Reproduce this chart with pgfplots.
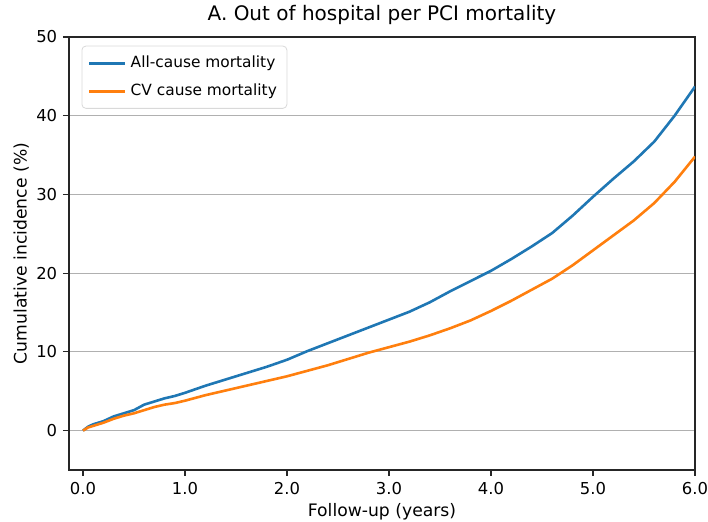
\documentclass[border=0pt]{standalone}
\usepackage{fontspec}
\setmainfont{DejaVu Sans}
\usepackage{pgfplots}
\pgfplotsset{compat=1.18}
\definecolor{tabblue}{HTML}{1F77B4}
\definecolor{taborange}{HTML}{FF7F0E}
\definecolor{gridgray}{HTML}{B0B0B0}
\begin{document}
\fontsize{8.2pt}{10pt}\selectfont
\begin{tikzpicture}
\path[use as bounding box] (0,0) rectangle (354pt,261pt);
\begin{axis}[
  at={(34.5pt,26pt)}, anchor=south west,
  scale only axis, width=313pt, height=216.5pt,
  xmin=-0.137, xmax=6.0, ymin=-5, ymax=50,
  xtick={0,1,2,3,4,5,6},
  ytick={0,10,20,30,40,50},
  xticklabel style={/pgf/number format/.cd, fixed, fixed zerofill, precision=1},
  /pgf/number format/assume math mode=true,
  tick label style={font=\fontsize{8.2pt}{10pt}\selectfont},
  label style={font=\fontsize{8.6pt}{10pt}\selectfont},
  title style={font=\fontsize{10pt}{12pt}\selectfont, yshift=-3pt},
  title={A. Out of hospital per PCI mortality},
  xlabel={Follow-up (years)},
  ylabel={Cumulative incidence (\%)},
  xlabel style={yshift=1pt},
  ylabel style={yshift=-2pt},
  ymajorgrids, grid style={gridgray, line width=0.6pt},
  tick align=outside, tick pos=left,
  major tick length=3pt,
  axis line style={line width=0.6pt, black!85},
  every tick/.style={black!85, line width=0.6pt},
  legend style={draw=black!15, rounded corners=2pt, fill=white, fill opacity=0.8, text opacity=1,
    font=\fontsize{7.7pt}{9.5pt}\selectfont, at={(0.02,0.98)}, anchor=north west,
    row sep=3pt, inner xsep=3pt, inner ysep=3pt},
  legend cell align=left,
  legend image code/.code={\draw[#1, line width=1.4pt] (0pt,0pt) -- (18pt,0pt);},
]
\addplot[tabblue, line width=1.3pt] coordinates {
(0,0) (0.05,0.5) (0.1,0.8) (0.2,1.2) (0.3,1.8) (0.4,2.2) (0.5,2.6) (0.6,3.3) (0.7,3.7) (0.8,4.1) (0.9,4.4) (1.0,4.8) (1.2,5.7) (1.4,6.5) (1.6,7.3) (1.8,8.1) (2.0,9.0) (2.2,10.1) (2.4,11.1) (2.6,12.1) (2.8,13.1) (3.0,14.1) (3.2,15.1) (3.4,16.3) (3.6,17.7) (3.8,19.0) (4.0,20.3) (4.2,21.8) (4.4,23.4) (4.6,25.1) (4.8,27.3) (5.0,29.7) (5.2,32.0) (5.4,34.2) (5.6,36.7) (5.8,40.0) (6.0,43.7)
};
\addlegendentry{All-cause mortality}
\addplot[taborange, line width=1.3pt] coordinates {
(0,0) (0.05,0.4) (0.1,0.6) (0.2,1.0) (0.3,1.5) (0.4,1.9) (0.5,2.2) (0.6,2.6) (0.7,3.0) (0.8,3.3) (0.9,3.5) (1.0,3.8) (1.2,4.5) (1.4,5.1) (1.6,5.7) (1.8,6.3) (2.0,6.9) (2.2,7.6) (2.4,8.3) (2.6,9.1) (2.8,9.9) (3.0,10.6) (3.2,11.3) (3.4,12.1) (3.6,13.0) (3.8,14.0) (4.0,15.2) (4.2,16.5) (4.4,17.9) (4.6,19.3) (4.8,21.0) (5.0,22.9) (5.2,24.8) (5.4,26.7) (5.6,28.9) (5.8,31.6) (6.0,34.8)
};
\addlegendentry{CV cause mortality}
\end{axis}
\end{tikzpicture}
\end{document}
